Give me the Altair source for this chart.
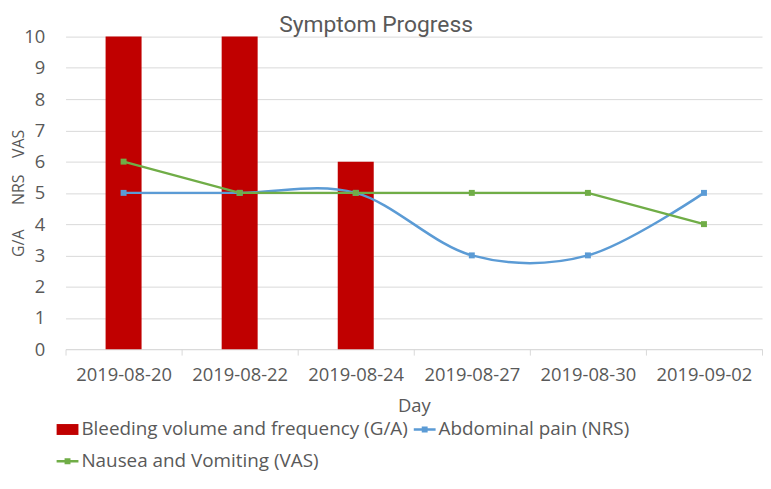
import altair as alt
import pandas as pd

days = ["2019-08-20", "2019-08-22", "2019-08-24", "2019-08-27", "2019-08-30", "2019-09-02"]
series = ["Bleeding volume and frequency (G/A)", "Abdominal pain (NRS)", "Nausea and Vomiting (VAS)"]
bleeding = [10, 10, 6, None, None, None]
pain = [5, 5, 5, 3, 3, 5]
nausea = [6, 5, 5, 5, 5, 4]
colors = ["#C00000", "#5B9BD5", "#70AD47"]

rows = []
for s, vals in zip(series, [bleeding, pain, nausea]):
    for d, v in zip(days, vals):
        if v is not None:
            rows.append({"Day": d, "Series": s, "Value": v})
df = pd.DataFrame(rows)

FONT = "Open Sans"
GRAY = "#595959"
NB = "\u00a0"

# legend symbol paths
bar_path = "M-1,-0.5H1V0.5H-1Z"
line_path = "M-1,-0.12H1V0.12H-1Z M-0.27,-0.27H0.27V0.27H-0.27Z"

color_scale = alt.Scale(domain=series, range=colors)

x_enc = alt.X(
    "Day:N", sort=days, title="Day",
    scale=alt.Scale(paddingInner=0, paddingOuter=0),
    axis=alt.Axis(labelAngle=0, domainColor="#d9d9d9", tickColor="#d9d9d9", tickSize=6,
                  tickBand="extent", labelPadding=11, titlePadding=12, grid=False),
)
y_enc = alt.Y(
    "Value:Q", title="G/A" + NB * 6 + "NRS" + NB * 4 + "VAS" + NB * 3,
    scale=alt.Scale(domain=[0, 10], nice=False),
    axis=alt.Axis(values=list(range(0, 11)), domain=False, ticks=False, labelPadding=21,
                  gridColor="#d9d9d9", titlePadding=-3),
)

base = alt.Chart(df).encode(x=x_enc, y=y_enc)
col = alt.Color("Series:N", scale=color_scale)

bars = base.transform_filter(alt.datum.Series == series[0]).mark_bar(
    width=alt.RelativeBandSize(0.31)
).encode(color=col)

pain_line = base.transform_filter(alt.datum.Series == series[1]).mark_line(
    interpolate="cardinal", strokeWidth=2.5
).encode(color=col)

nausea_line = base.transform_filter(alt.datum.Series == series[2]).mark_line(
    interpolate="linear", strokeWidth=2.5
).encode(color=col)

points = base.transform_filter(alt.datum.Series != series[0]).mark_point(
    shape="square", filled=True, size=36, opacity=1
).encode(color=col)

leg = dict(
    orient="none", legendX=-9, legendY=385, columns=2, direction="horizontal",
    title=None, labelFontSize=19, labelColor=GRAY, labelFont=FONT, labelLimit=500,
    symbolSize=484, symbolStrokeWidth=0, symbolOpacity=1, rowPadding=11,
    columnPadding=5, labelOffset=3, padding=0,
)
legend_layer = base.mark_point(opacity=0, filled=True).encode(
    color=alt.Color("Series:N", scale=color_scale, legend=alt.Legend(**leg)),
    shape=alt.Shape("Series:N", scale=alt.Scale(domain=series, range=[bar_path, line_path, line_path]),
                    legend=alt.Legend(**leg)),
)

chart = alt.layer(bars, pain_line, nausea_line, points, legend_layer).properties(
    width=702, height=315,
    title=alt.TitleParams("Symptom Progress", fontSize=23, fontWeight="normal", color=GRAY,
                          font="Roboto", anchor="middle", dx=-38, offset=-9.5),
    padding={"left": 2, "top": 4, "right": 0, "bottom": 0},
).configure_axis(
    labelFont=FONT, titleFont=FONT, labelFontSize=18.5, titleFontSize=16,
    labelColor=GRAY, titleColor=GRAY, titleFontWeight="normal",
).configure_axisX(titleFontSize=18.5).configure_view(stroke=None)

chart.save("out.html", embed_options={"renderer": "svg", "actions": False})
